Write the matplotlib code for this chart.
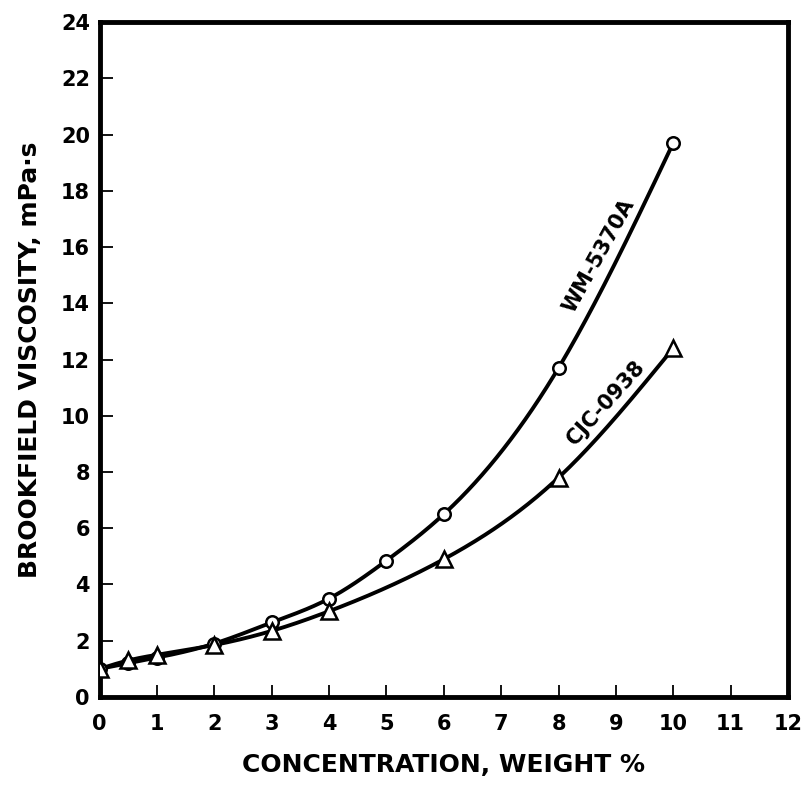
import numpy as np
import matplotlib
matplotlib.use("Agg")
import matplotlib.pyplot as plt

plt.rcParams["font.family"] = ["DejaVu Sans"]
plt.rcParams["font.weight"] = "bold"

# ---- data -----------------------------------------------------------
wm_x = [0, 0.5, 1, 2, 3, 4, 5, 6, 8, 10]
wm_y = [1.0, 1.2, 1.4, 1.9, 2.65, 3.5, 4.85, 6.5, 11.7, 19.7]
cjc_x = [0, 0.5, 1, 2, 3, 4, 6, 8, 10]
cjc_y = [1.0, 1.3, 1.5, 1.85, 2.35, 3.05, 4.9, 7.8, 12.4]

x_ticks = list(range(0, 13))
y_ticks = list(range(0, 25, 2))


def smooth(x, y, n=400):
    """Natural cubic spline through the points, used only to draw the line."""
    x = np.asarray(x, float)
    y = np.asarray(y, float)
    h = np.diff(x)
    m = len(x)
    A = np.zeros((m, m))
    b = np.zeros(m)
    A[0, 0] = A[-1, -1] = 1.0
    for i in range(1, m - 1):
        A[i, i - 1] = h[i - 1]
        A[i, i] = 2 * (h[i - 1] + h[i])
        A[i, i + 1] = h[i]
        b[i] = 6 * ((y[i + 1] - y[i]) / h[i] - (y[i] - y[i - 1]) / h[i - 1])
    M = np.linalg.solve(A, b)
    xs = np.linspace(x[0], x[-1], n)
    k = np.clip(np.searchsorted(x, xs) - 1, 0, m - 2)
    dx0 = xs - x[k]
    dx1 = x[k + 1] - xs
    hk = h[k]
    ys = (M[k] * dx1 ** 3 / (6 * hk) + M[k + 1] * dx0 ** 3 / (6 * hk)
          + (y[k] / hk - M[k] * hk / 6) * dx1
          + (y[k + 1] / hk - M[k + 1] * hk / 6) * dx0)
    return xs, ys


fig = plt.figure(figsize=(8.04, 7.88), dpi=100)
ax = fig.add_axes([0.124, 0.1155, 0.856, 0.8565])

for xs, ys, mk, ms in ((wm_x, wm_y, "o", 9), (cjc_x, cjc_y, "^", 11)):
    sx, sy = smooth(xs, ys)
    ax.plot(sx, sy, color="black", lw=2.8, solid_capstyle="round", zorder=2)
    ax.plot(xs, ys, mk, ms=ms, mfc="white", mec="black", mew=1.8,
            ls="none", zorder=3)

ax.text(8.71, 15.7, "WM-5370A", rotation=61, ha="center", va="center",
        fontsize=15, fontweight="bold")
ax.text(8.83, 10.46, "CJC-0938", rotation=48, ha="center", va="center",
        fontsize=15, fontweight="bold")

ax.set_xlim(0, 12)
ax.set_ylim(0, 24)
ax.set_xticks(x_ticks)
ax.set_yticks(y_ticks)
ax.tick_params(direction="in", length=9, width=1.3, labelsize=15)
ax.tick_params(axis="x", pad=12)
ax.tick_params(axis="y", pad=7)
for lab in ax.get_xticklabels() + ax.get_yticklabels():
    lab.set_fontweight("bold")
for sp in ax.spines.values():
    sp.set_linewidth(3.5)

ax.set_xlabel("CONCENTRATION, WEIGHT %", fontsize=18, fontweight="bold",
              labelpad=14)
ax.set_ylabel("BROOKFIELD VISCOSITY, mPa·s", fontsize=18, fontweight="bold",
              labelpad=14)

fig.savefig("out.png", dpi=100)
